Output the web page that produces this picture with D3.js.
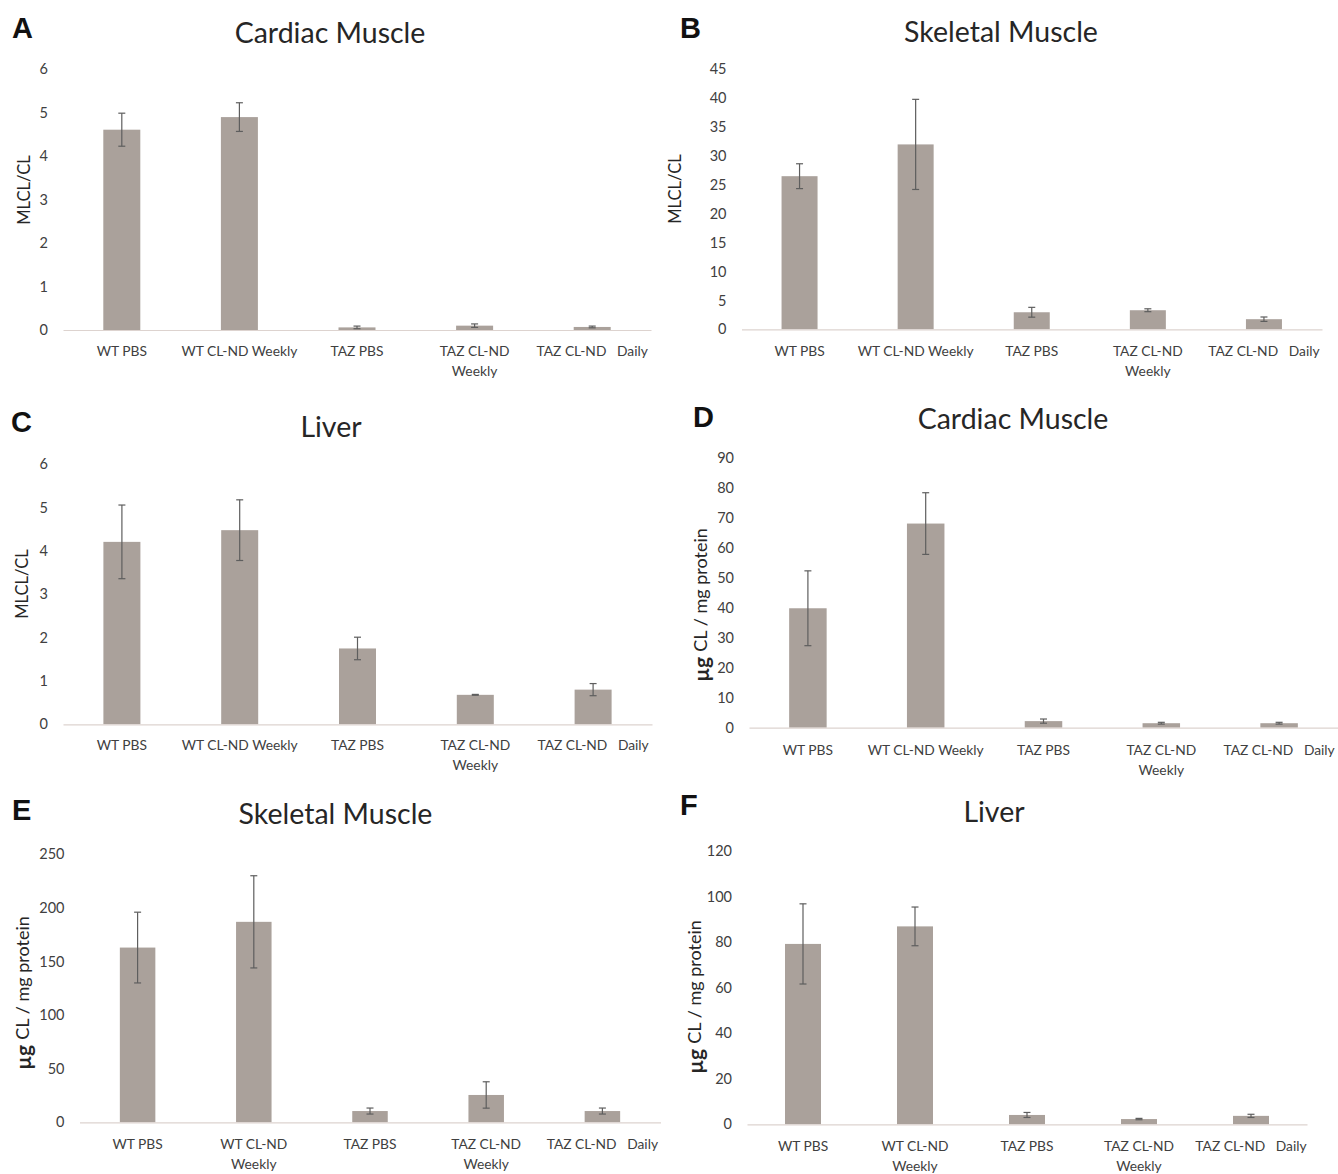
<!DOCTYPE html>
<html><head><meta charset="utf-8">
<script src="https://cdn.jsdelivr.net/npm/d3@7"></script>
<style>
body{margin:0;background:#fff}
svg{display:block}
text{font-family:Lato,"Open Sans",sans-serif}
</style>
</head><body>
<svg id="chart" width="1338" height="1174"></svg>
<script>
// ---------- data ----------
const categories = ["WT PBS", "WT CL-ND Weekly", "TAZ PBS", "TAZ CL-ND Weekly", "TAZ CL-ND Daily"];
const labelsOneLine = [["WT PBS"], ["WT CL-ND Weekly"], ["TAZ PBS"], ["TAZ CL-ND", "Weekly"], ["TAZ CL-ND   Daily"]];
const labelsWrapped = [["WT PBS"], ["WT CL-ND", "Weekly"], ["TAZ PBS"], ["TAZ CL-ND", "Weekly"], ["TAZ CL-ND   Daily"]];

const aMeans  = [4.61, 4.90, 0.06, 0.10, 0.07];
const aErrors = [0.38, 0.33, 0.03, 0.04, 0.02];
const aTicks  = [0, 1, 2, 3, 4, 5, 6];

const bMeans  = [26.5, 32.0, 2.95, 3.3, 1.75];
const bErrors = [2.15, 7.8, 0.85, 0.25, 0.38];
const bTicks  = [0, 5, 10, 15, 20, 25, 30, 35, 40, 45];

const cMeans  = [4.21, 4.48, 1.75, 0.68, 0.80];
const cErrors = [0.85, 0.70, 0.26, 0.01, 0.14];
const cTicks  = [0, 1, 2, 3, 4, 5, 6];

const dMeans  = [39.9, 68.2, 2.2, 1.5, 1.5];
const dErrors = [12.5, 10.3, 0.7, 0.3, 0.3];
const dTicks  = [0, 10, 20, 30, 40, 50, 60, 70, 80, 90];

const eMeans  = [163, 187, 10.5, 25.5, 10.5];
const eErrors = [33, 43, 2.8, 12.3, 2.8];
const eTicks  = [0, 50, 100, 150, 200, 250];

const fMeans  = [79.2, 86.9, 4.1, 2.3, 3.7];
const fErrors = [17.6, 8.5, 1.1, 0.3, 0.7];
const fTicks  = [0, 20, 40, 60, 80, 100, 120];

const mlclLabel = [{t: "MLCL/CL", bold: false}];
const cardiolipinLabel = [{t: "µg ", bold: true}, {t: "CL / mg protein", bold: false}];

// ---------- layout ----------
const panels = [
  {letter: "A", title: "Cardiac Muscle", yLabel: mlclLabel, means: aMeans, errors: aErrors, ticks: aTicks, labels: labelsOneLine,
   x0: 63, x1: 651, yTop: 69.3, yBase: 330, barW: 37, letterX: 12, letterY: 38, titleX: 330, titleY: 42.5, yLabelX: 24, yLabelY: 190, labelY: 356},
  {letter: "B", title: "Skeletal Muscle", yLabel: mlclLabel, means: bMeans, errors: bErrors, ticks: bTicks, labels: labelsOneLine,
   x0: 741.5, x1: 1322, yTop: 69.3, yBase: 329.3, barW: 36, letterX: 680, letterY: 38, titleX: 1001, titleY: 41.5, yLabelX: 675, yLabelY: 189, labelY: 356},
  {letter: "C", title: "Liver", yLabel: mlclLabel, means: cMeans, errors: cErrors, ticks: cTicks, labels: labelsOneLine,
   x0: 63, x1: 652, yTop: 464.3, yBase: 724.3, barW: 37, letterX: 11, letterY: 432, titleX: 331, titleY: 436.5, yLabelX: 22, yLabelY: 584, labelY: 750},
  {letter: "D", title: "Cardiac Muscle", yLabel: cardiolipinLabel, means: dMeans, errors: dErrors, ticks: dTicks, labels: labelsOneLine,
   x0: 749, x1: 1338, yTop: 458.3, yBase: 727.7, barW: 37.5, letterX: 693, letterY: 427, titleX: 1013, titleY: 429, yLabelX: 700, yLabelY: 605, labelY: 755},
  {letter: "E", title: "Skeletal Muscle", yLabel: cardiolipinLabel, means: eMeans, errors: eErrors, ticks: eTicks, labels: labelsWrapped,
   x0: 79.5, x1: 660.5, yTop: 854.3, yBase: 1122.3, barW: 35.5, letterX: 12, letterY: 820, titleX: 335.5, titleY: 824, yLabelX: 22, yLabelY: 993, labelY: 1149},
  {letter: "F", title: "Liver", yLabel: cardiolipinLabel, means: fMeans, errors: fErrors, ticks: fTicks, labels: labelsWrapped,
   x0: 747, x1: 1307, yTop: 851, yBase: 1124.3, barW: 36, letterX: 680, letterY: 815, titleX: 994, titleY: 821.5, yLabelX: 694, yLabelY: 997, labelY: 1151}
];

const BAR = "#aaa19b", ERR = "#5e5e5e", AXIS = "#ddd3cf", TICK = "#404040", TITLE = "#262626";

const svg = d3.select("#chart");

panels.forEach(p => {
  const g = svg.append("g");
  const step = (p.x1 - p.x0) / categories.length;
  const pin = 1 - p.barW / step;
  const x = d3.scaleBand().domain(categories).range([p.x0, p.x1]).paddingInner(pin).paddingOuter(pin / 2);
  const y = d3.scaleLinear().domain([0, d3.max(p.ticks)]).range([p.yBase, p.yTop]);
  const data = categories.map((c, i) => ({c, m: p.means[i], e: p.errors[i], lab: p.labels[i]}));

  // panel letter
  g.append("text").attr("x", p.letterX).attr("y", p.letterY)
    .style("font-family", "'Liberation Sans', Arial, sans-serif").style("font-weight", "bold")
    .style("font-size", "29px").attr("fill", "#111").text(p.letter);

  // title
  g.append("text").attr("x", p.titleX).attr("y", p.titleY).attr("text-anchor", "middle")
    .style("font-size", "28.5px").attr("fill", TITLE).text(p.title);

  // y axis (labels only)
  const ya = g.append("g").attr("transform", `translate(${p.x0},0)`)
    .call(d3.axisLeft(y).tickValues(p.ticks).tickSize(0).tickPadding(15).tickFormat(d3.format("d")));
  ya.select(".domain").remove();
  ya.selectAll("text").style("font-size", "14.5px").style("font-family", "Lato,'Open Sans',sans-serif").attr("fill", TICK);

  // y title
  const yt = g.append("text").attr("transform", `translate(${p.yLabelX},${p.yLabelY}) rotate(-90)`)
    .attr("text-anchor", "middle").attr("dominant-baseline", "central").attr("fill", TITLE);
  p.yLabel.forEach(part => {
    yt.append("tspan").text(part.t)
      .style("font-weight", part.bold ? "bold" : "normal")
      .style("font-size", p.yLabel.length > 1 ? (part.bold ? "21px" : "18px") : "16.5px");
  });

  // bars
  g.selectAll("rect.bar").data(data).join("rect").attr("class", "bar")
    .attr("x", d => x(d.c)).attr("width", x.bandwidth())
    .attr("y", d => y(d.m)).attr("height", d => y(0) - y(d.m))
    .attr("fill", BAR);

  // x axis
  const xa = g.append("g").attr("transform", `translate(0,${p.yBase})`)
    .call(d3.axisBottom(x).tickSize(0).tickSizeOuter(0).tickFormat(""));
  xa.select(".domain").attr("stroke", AXIS).attr("stroke-width", 1.2);

  // x labels
  const lab = g.selectAll("text.xl").data(data).join("text").attr("class", "xl")
    .attr("x", d => x(d.c) + x.bandwidth() / 2).attr("y", p.labelY)
    .attr("text-anchor", "middle").attr("fill", TICK)
    .style("font-size", "13.8px").style("white-space", "pre");
  lab.each(function(d) {
    const t = d3.select(this);
    d.lab.forEach((line, i) => {
      t.append("tspan").attr("x", x(d.c) + x.bandwidth() / 2).attr("dy", i === 0 ? 0 : 19.5).text(line);
    });
  });

  // error bars
  const eb = g.selectAll("g.err").data(data).join("g").attr("class", "err")
    .attr("stroke", ERR).attr("stroke-width", 1.2);
  eb.append("line")
    .attr("x1", d => x(d.c) + x.bandwidth() / 2).attr("x2", d => x(d.c) + x.bandwidth() / 2)
    .attr("y1", d => y(d.m + d.e)).attr("y2", d => y(d.m - d.e));
  [1, -1].forEach(s => {
    eb.append("line")
      .attr("x1", d => x(d.c) + x.bandwidth() / 2 - 3.5).attr("x2", d => x(d.c) + x.bandwidth() / 2 + 3.5)
      .attr("y1", d => y(d.m + s * d.e)).attr("y2", d => y(d.m + s * d.e));
  });
});
</script>
</body></html>
